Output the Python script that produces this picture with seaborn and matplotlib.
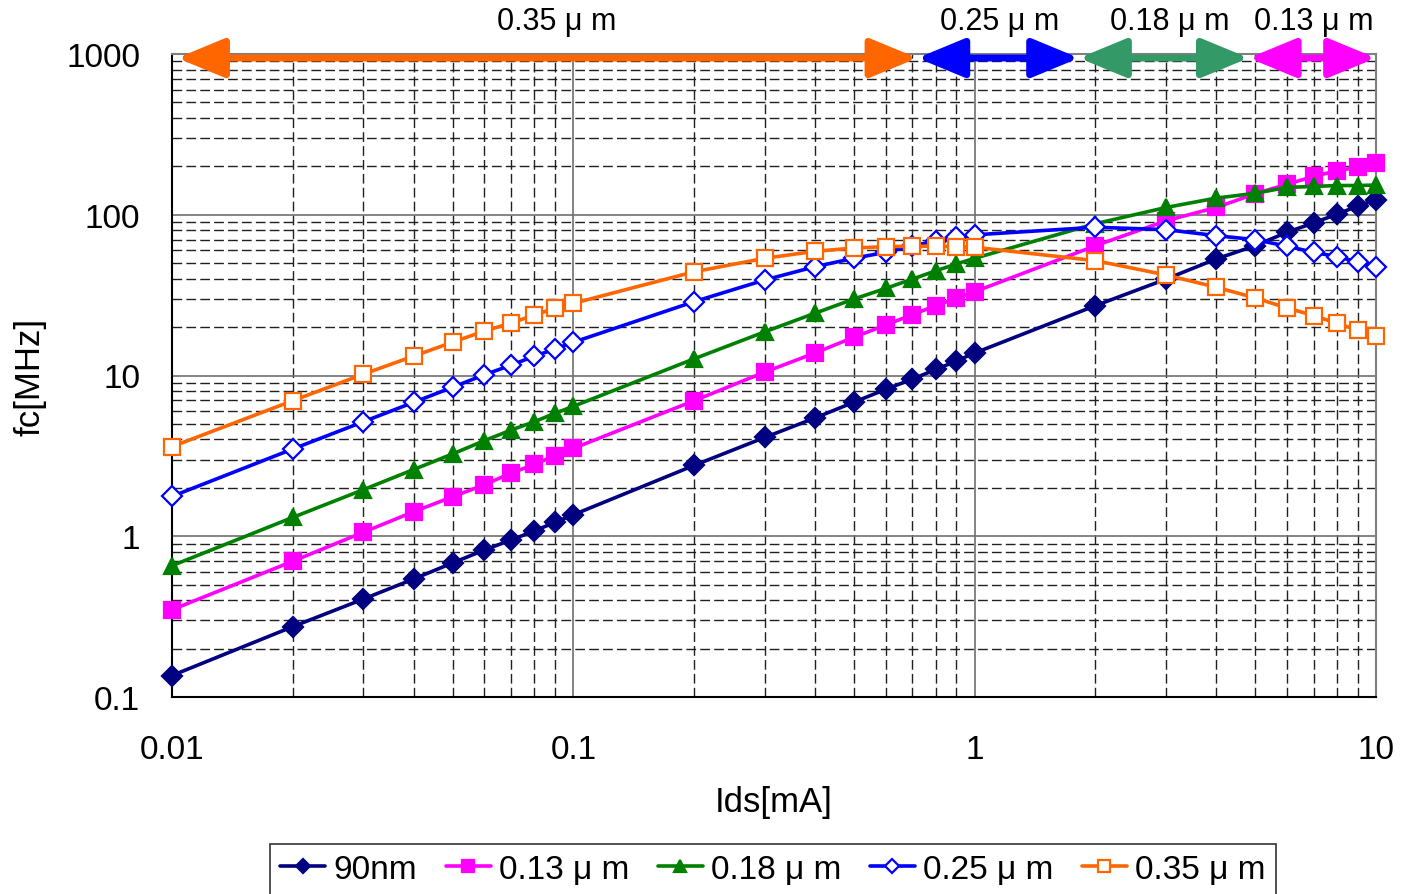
import numpy as np
import pandas as pd
import matplotlib
matplotlib.use("Agg")
import matplotlib.pyplot as plt
import matplotlib.transforms as mtransforms
import seaborn as sns
from matplotlib.patches import FancyArrowPatch
from matplotlib.ticker import LogLocator, FixedLocator, FuncFormatter, NullFormatter

# ---------------- data ----------------
ids = [0.01, 0.02, 0.03, 0.04, 0.05, 0.06, 0.07, 0.08, 0.09,
       0.1, 0.2, 0.3, 0.4, 0.5, 0.6, 0.7, 0.8, 0.9,
       1, 2, 3, 4, 5, 6, 7, 8, 9, 10]

fc_90nm = [0.136, 0.274, 0.407, 0.542, 0.682, 0.821, 0.948, 1.08, 1.22,
           1.36, 2.76, 4.12, 5.44, 6.82, 8.2, 9.5, 10.9, 12.3,
           13.8, 27.2, 39.8, 53.1, 64.2, 77.8, 89, 101, 113, 124]
fc_013 = [0.349, 0.699, 1.06, 1.42, 1.76, 2.09, 2.47, 2.8, 3.17,
          3.52, 6.97, 10.5, 13.8, 17.3, 20.6, 23.9, 27.2, 30.2,
          33.2, 64.2, 91.8, 111, 135, 155, 173, 188, 197, 209]
fc_018 = [0.656, 1.31, 1.95, 2.6, 3.25, 3.93, 4.58, 5.16, 5.82,
          6.43, 12.7, 18.7, 24.4, 29.9, 34.8, 39.8, 44.8, 49.4,
          53.6, 88, 111, 127, 136, 148, 150, 152, 152, 153]
fc_025 = [1.77, 3.49, 5.16, 6.81, 8.45, 10.1, 11.6, 13.2, 14.6,
          16.1, 28.8, 39.3, 47.5, 53.6, 58.4, 64.2, 68.5, 73,
          75, 83.6, 80.8, 74.1, 70, 63.7, 58.4, 54.8, 51, 47.5]
fc_035 = [3.61, 6.97, 10.2, 13.2, 16.1, 18.9, 21.2, 23.8, 26.2,
          28.1, 44.2, 53.6, 59.2, 62.1, 63.3, 63.7, 63.7, 63.3,
          62.8, 51.8, 42.2, 35.4, 30.4, 26.3, 23.6, 21.1, 19.2, 17.5]

series_names = ["90nm", "0.13 μ m", "0.18 μ m", "0.25 μ m", "0.35 μ m"]
series_values = [fc_90nm, fc_013, fc_018, fc_025, fc_035]

# node ranges shown as arrows on top
range_labels = ["0.35 μ m", "0.25 μ m", "0.18 μ m", "0.13 μ m"]
range_start = [0.0103, 0.72, 1.82, 4.82]
range_end = [0.72, 1.82, 4.82, 10.0]
range_label_x = [0.0908, 1.154, 3.06, 7.0]

x_ticks = [0.01, 0.1, 1, 10]
y_ticks = [0.1, 1, 10, 100, 1000]

# ---------------- styles ----------------
colors = ["#000080", "#FF00FF", "#008000", "#0000FF", "#FF6600"]
markers = ["D", "s", "^", "D", "s"]
faces = ["#000080", "#FF00FF", "#008000", "white", "white"]
msizes = [10, 11, 12, 10, 12]
arrow_colors = ["#FF6600", "#0000FF", "#339966", "#FF00FF"]

sns.set_style("white")
plt.rcParams["font.family"] = ["Liberation Sans", "DejaVu Sans"]
plt.rcParams["text.color"] = "black"
plt.rcParams["axes.labelcolor"] = "black"
plt.rcParams["xtick.color"] = "black"
plt.rcParams["ytick.color"] = "black"

fig = plt.figure(figsize=(14.03, 8.95), dpi=100)
ax = fig.add_axes([172 / 1403, 1 - 698 / 895, (1376 - 172) / 1403, (698 - 55) / 895])

ax.set_xscale("log")
ax.set_yscale("log")
ax.set_xlim(0.01, 10)
ax.set_ylim(0.1, 1000)

# grid
ax.xaxis.set_major_locator(FixedLocator(x_ticks))
ax.yaxis.set_major_locator(FixedLocator(y_ticks))
ax.xaxis.set_minor_locator(LogLocator(base=10, subs=np.arange(2, 10)))
ax.yaxis.set_minor_locator(LogLocator(base=10, subs=np.arange(2, 10)))
fmt = FuncFormatter(lambda v, p: f"{v:g}")
ax.xaxis.set_major_formatter(fmt)
ax.yaxis.set_major_formatter(fmt)
ax.xaxis.set_minor_formatter(NullFormatter())
ax.yaxis.set_minor_formatter(NullFormatter())
ax.grid(which="major", color="#707070", lw=1.2, ls="-", zorder=0)
ax.grid(which="minor", color="#202020", lw=1.0, ls=(0, (7, 3)), zorder=0)
ax.set_axisbelow(True)

for name, vals, c, m, fcol, ms in zip(series_names, series_values, colors, markers, faces, msizes):
    d = pd.DataFrame({"Ids": ids, "fc": vals})
    sns.lineplot(data=d, x="Ids", y="fc", ax=ax, color=c, marker=m, markersize=ms,
                 markerfacecolor=fcol, markeredgecolor=c, markeredgewidth=1.6,
                 linewidth=2.6, label=name, clip_on=False, zorder=3)

# arrows
arrow_y = 944
for s, e, c in zip(range_start, range_end, arrow_colors):
    arr = FancyArrowPatch((s, arrow_y), (e, arrow_y),
                          arrowstyle="<|-|>,head_length=29,head_width=12",
                          mutation_scale=1, color=c, lw=5.0, shrinkA=0, shrinkB=0,
                          clip_on=False, zorder=5)
    ax.add_patch(arr)
blend = mtransforms.blended_transform_factory(ax.transData, fig.transFigure)
for lab, xl in zip(range_labels, range_label_x):
    ax.text(xl, 1 - 22 / 895, lab, transform=blend,
            ha="center", va="center", fontsize=22, color="black")

# spines
for side in ["left", "bottom"]:
    ax.spines[side].set_color("black")
    ax.spines[side].set_linewidth(1.5)
for side in ["top", "right"]:
    ax.spines[side].set_color("#808080")
    ax.spines[side].set_linewidth(1.5)

ax.tick_params(which="major", length=5, width=1.2, color="black", labelcolor="black",
               labelsize=24, direction="out")
ax.tick_params(axis="y", which="major", pad=18)
ax.tick_params(axis="x", which="major", pad=22)
ax.tick_params(which="minor", length=0)

ax.set_xlabel("Ids[mA]", fontsize=25, color="black")
ax.set_ylabel("fc[MHz]", fontsize=25, color="black")
ax.xaxis.set_label_coords(0.5, (698 - 803) / 643)
ax.yaxis.set_label_coords((30 - 172) / 1204, 0.5)
ax.xaxis.label.set_va("center")
ax.yaxis.label.set_va("center")

leg = ax.legend(loc="upper center", bbox_to_anchor=(773 / 1403, 1 - 845 / 895),
                bbox_transform=fig.transFigure, ncol=5, frameon=True, fancybox=False,
                edgecolor="black", markerscale=0.75, handlelength=1.35, handletextpad=0.25,
                columnspacing=0.85, borderpad=0.3, borderaxespad=0,
                prop={"size": 24})
leg.get_frame().set_linewidth(1.2)
for t in leg.get_texts():
    t.set_color("black")

fig.savefig("out.png", dpi=100)
